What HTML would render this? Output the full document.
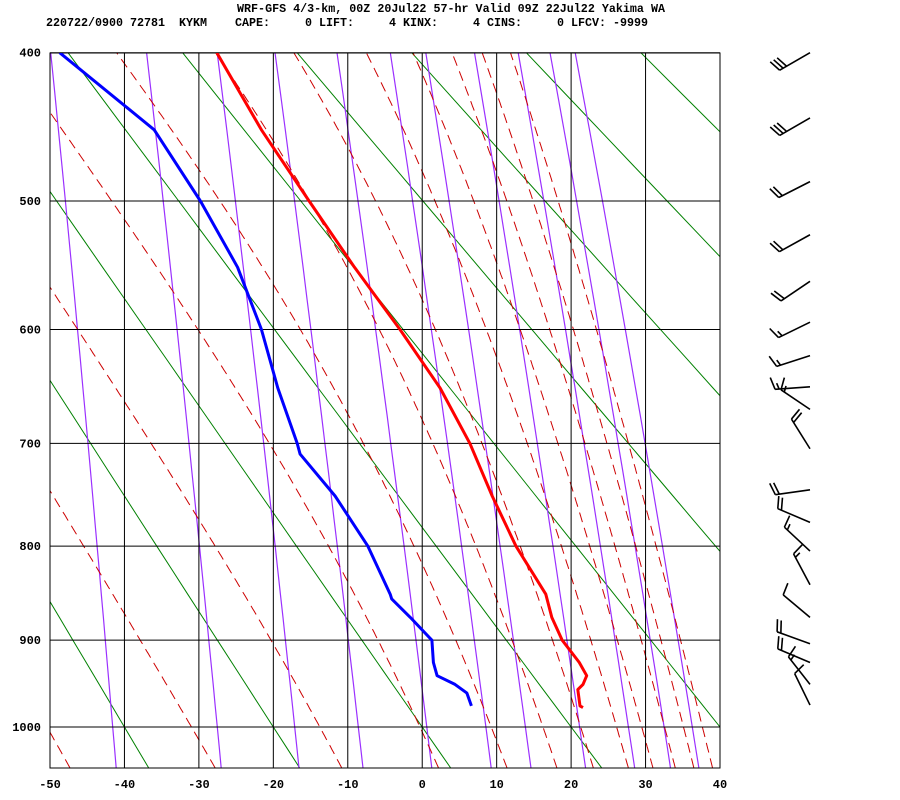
<!DOCTYPE html>
<html><head><meta charset="utf-8"><style>
html,body{margin:0;padding:0;background:#fff;width:900px;height:800px;overflow:hidden}
svg{display:block}
text{font-family:"Liberation Mono",monospace;fill:#000}
</style></head><body>
<svg id="chart" width="900" height="800" viewBox="0 0 900 800" xmlns="http://www.w3.org/2000/svg">
<defs><clipPath id="plotclip"><rect x="50" y="53" width="670" height="715"/></clipPath></defs>
<text x="237" y="12" font-size="11.7" font-weight="bold" textLength="428">WRF-GFS 4/3-km, 00Z 20Jul22 57-hr Valid 09Z 22Jul22 Yakima WA</text>
<text x="46" y="26" font-size="11.7" font-weight="bold" textLength="602" xml:space="preserve">220722/0900 72781  KYKM    CAPE:     0 LIFT:     4 KINX:     4 CINS:     0 LFCV: -9999</text>
<g id="bg" clip-path="url(#plotclip)"></g>
<g id="grid"></g>
<g id="profiles" clip-path="url(#plotclip)"></g>
<g id="labels"></g>
<g id="barbs"></g>
</svg>
<script>
// ---- data ----
const pressureTicks = [400,500,600,700,800,900,1000];
const tempTicks = [-50,-40,-30,-20,-10,0,10,20,30,40];
const dryAdiabatsC = [-40,-20,0,20,40,60,80,100,120,140,160];
const mixingRatios = [0.1,0.4,1,2,4,7,10,16,24,32,40];
const moistStartT = [-47.3,-27.8,-10.8,2.2,11.4,18.1,23.0,27.7,31.0,34.0,36.5,39.0];
const tempP = [400,450,500,550,600,650,700,750,800,850,875,900,925,940,950,956,975,977];
const tempT = [-27.6,-21.6,-15.2,-9.1,-3.0,2.4,6.4,9.4,12.6,16.6,17.4,18.8,21.1,22.1,21.6,20.9,21.2,21.6];
const dewP = [400,450,500,550,600,650,700,710,750,800,850,855,875,900,925,940,950,960,975];
const dewT = [-48.7,-36.0,-29.8,-24.8,-21.6,-19.4,-16.8,-16.4,-11.7,-7.3,-4.3,-4.1,-1.6,1.3,1.5,2.0,4.4,6.0,6.6];
const barbP = [400,442,486,525,561,594,622,649,669,705,744,776,805,840,875,904,925,950,974];
const barbDir = [240,240,243,241,236,244,252,266,304,328,262,293,313,332,310,290,293,322,334];
const barbSpd = [30,30,20,20,20,15,15,15,15,20,20,20,15,15,10,20,20,15,10];

const NS='http://www.w3.org/2000/svg';
const K=0.286, P0K=Math.pow(1000,K);
function xT(t){return 50+(t+50)*670/90;}
function yP(p){return 727-405.6*(P0K-Math.pow(p,K));}
function mk(tag,attrs,parent){const e=document.createElementNS(NS,tag);for(const k in attrs)e.setAttribute(k,attrs[k]);parent.appendChild(e);return e;}
function pathOf(pts){return pts.map((q,i)=>(i?'L':'M')+q[0].toFixed(1)+' '+q[1].toFixed(1)).join(' ');}
const bg=document.getElementById('bg'),grid=document.getElementById('grid'),prof=document.getElementById('profiles'),lab=document.getElementById('labels'),barbs=document.getElementById('barbs');
const PB=1050, PT=395;

// dry adiabats
dryAdiabatsC.forEach(th=>{
  const pts=[];for(let p=PB;p>=PT;p-=25){const t=(th+273.15)*Math.pow(p/1000,K)-273.15;pts.push([xT(t),yP(p)]);}
  const el=mk('path',{d:pathOf(pts),stroke:'#008000','stroke-width':1,fill:'none'},bg);
  
  
});
// mixing ratio lines
mixingRatios.forEach(w=>{
  const pts=[];for(let p=PB;p>=PT;p-=25){const e=w*p/(622+w);const l=Math.log(e/6.112);const td=243.5*l/(17.67-l);pts.push([xT(td),yP(p)]);}
  const el=mk('path',{d:pathOf(pts),stroke:'#9b30ff','stroke-width':1.2,fill:'none'},bg);
  
  
});
// moist adiabats
function dTdp(T,p){const Tk=T+273.15;const es=6.112*Math.exp(17.67*T/(T+243.5));const rs=0.622*es/(p-es);
  return (287*Tk+2.5e6*rs)/(1005+2.5e6*2.5e6*rs*0.622/(287*Tk*Tk))/p;}
moistStartT.forEach(t0=>{
  let T=t0;const pts=[[xT(T),yP(PB)]];
  for(let p=PB;p>PT;p-=2){const dp=-2;const k1=dTdp(T,p),k2=dTdp(T+k1*dp/2,p+dp/2),k3=dTdp(T+k2*dp/2,p+dp/2),k4=dTdp(T+k3*dp,p+dp);
    T+=dp*(k1+2*k2+2*k3+k4)/6;pts.push([xT(T),yP(p+dp)]);}
  const el=mk('path',{d:pathOf(pts),stroke:'#cc0000','stroke-width':1,fill:'none','stroke-dasharray':'10 6'},bg);
  
  
});
// grid
tempTicks.forEach(t=>{
  const el=mk('line',{x1:xT(t),x2:xT(t),y1:53,y2:768,stroke:'#000','stroke-width':1},grid);
  
  
  const tx=mk('text',{x:xT(t),y:788,'text-anchor':'middle','font-size':12,'font-weight':'bold'},lab);
  tx.textContent=t;
  
  
});
pressureTicks.forEach(p=>{
  const el=mk('line',{x1:50,x2:720,y1:yP(p),y2:yP(p),stroke:'#000','stroke-width':1},grid);
  
  
  const tx=mk('text',{x:41,y:yP(p)+4,'text-anchor':'end','font-size':12,'font-weight':'bold'},lab);
  tx.textContent=p;
  
  
});
const fr=mk('rect',{x:50,y:53,width:670,height:715,fill:'none',stroke:'#000','stroke-width':1},grid);


// profiles
const tl=mk('path',{d:pathOf(tempP.map((p,i)=>[xT(tempT[i]),yP(p)])),stroke:'#ff0000','stroke-width':3,fill:'none','stroke-linejoin':'round'},prof);


const dl=mk('path',{d:pathOf(dewP.map((p,i)=>[xT(dewT[i]),yP(p)])),stroke:'#0000ff','stroke-width':3,fill:'none','stroke-linejoin':'round'},prof);


// wind barbs
barbP.forEach((p,i)=>{
  const g=mk('g',{stroke:'#000','stroke-width':1.6,fill:'none'},barbs);
  
  
  const a=barbDir[i]*Math.PI/180, ux=Math.sin(a), uy=-Math.cos(a), L=35;
  const rx=810, ry=yP(p), tx=rx+L*ux, ty=ry+L*uy;
  mk('line',{x1:rx,y1:ry,x2:tx,y2:ty},g);
  const px=-uy, py=ux; // perpendicular
  let s=barbSpd[i], pos=0;
  while(s>=10){const bx=tx-ux*pos,by=ty-uy*pos;mk('line',{x1:bx,y1:by,x2:bx+px*12+ux*4,y2:by+py*12+uy*4},g);pos+=4;s-=10;}
  if(s>=5){if(pos===0)pos=4;const bx=tx-ux*pos,by=ty-uy*pos;mk('line',{x1:bx,y1:by,x2:bx+px*6+ux*2,y2:by+py*6+uy*2},g);}
});
</script>
</body></html>
